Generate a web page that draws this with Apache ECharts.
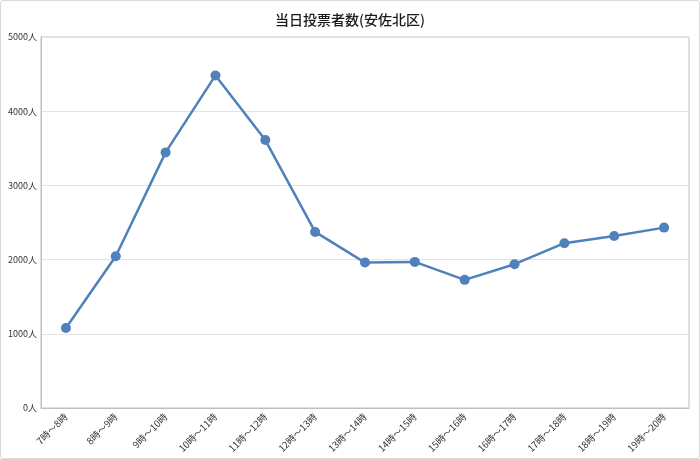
<!DOCTYPE html>
<html>
<head>
<meta charset="utf-8">
<script src="https://cdn.jsdelivr.net/npm/echarts@6/dist/echarts.min.js"></script>
<style>
  html, body { margin: 0; padding: 0; background: #fff; }
  #main { width: 698px; height: 457px; border: 1px solid #d9d9d9; border-radius: 3px; }
</style>
</head>
<body>
<div id="main"></div>
<script>
// 時間帯
var hours = ['7時～8時', '8時～9時', '9時～10時', '10時～11時', '11時～12時', '12時～13時',
  '13時～14時', '14時～15時', '15時～16時', '16時～17時', '17時～18時', '18時～19時', '19時～20時'];
// 当日投票者数
var voters = [1077, 2046, 3445, 4482, 3611, 2373, 1960, 1969, 1727, 1938, 2221, 2319, 2431];
var yTicks = [0, 1000, 2000, 3000, 4000, 5000];

var chart = echarts.init(document.getElementById('main'));
var font = '"Noto Sans CJK JP", sans-serif';

var option = {
  animation: false,
  title: {
    text: '当日投票者数(安佐北区)',
    left: 'center',
    top: 7,
    textStyle: { fontFamily: font, fontSize: 14, fontWeight: 500, color: '#1a1a1a' }
  },
  grid: {
    left: 40, right: 10, top: 36, bottom: 50,
    show: true, borderColor: '#bfbfbf', borderWidth: 1
  },
  xAxis: {
    type: 'category',
    data: hours,
    boundaryGap: true,
    axisLine: { lineStyle: { color: '#bfbfbf' } },
    axisTick: { show: false },
    axisLabel: {
      interval: 0, rotate: 45, fontSize: 9.5, color: '#333', fontFamily: font, margin: 7
    }
  },
  yAxis: {
    type: 'value',
    min: yTicks[0],
    max: yTicks[yTicks.length - 1],
    interval: 1000,
    axisLine: { show: true, lineStyle: { color: '#bfbfbf' } },
    axisTick: { show: false },
    axisLabel: {
      fontSize: 9, color: '#333', fontFamily: font, margin: 4,
      formatter: function (v) { return v + '人'; }
    },
    splitLine: { lineStyle: { color: '#e3e3e3' } }
  },
  series: [{
    type: 'line',
    data: voters,
    symbol: 'circle',
    symbolSize: 10,
    lineStyle: { color: '#4f81bd', width: 2.5 },
    itemStyle: { color: '#4f81bd' }
  }]
};
chart.setOption(option);
</script>
</body>
</html>
